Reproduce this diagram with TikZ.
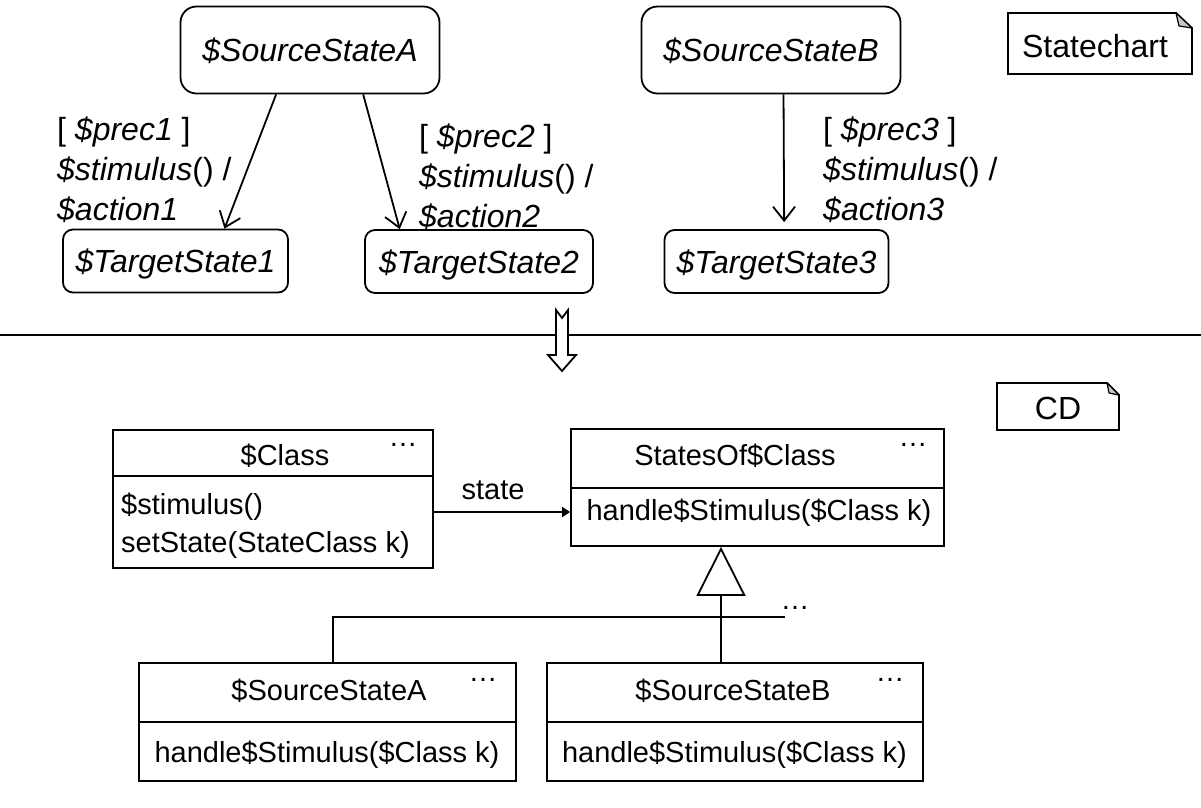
\documentclass[tikz,border=0pt]{standalone}
\usepackage{fontspec}
\setmainfont{Liberation Sans}
\usetikzlibrary{arrows.meta,calc}
\begin{document}
\begin{tikzpicture}[x=1pt,y=-1pt,
  ln/.style={line width=1.8pt},
  stbox/.style={draw, line width=1.8pt, inner sep=0pt, text depth=0pt, font=\fontsize{32}{38}\selectfont\itshape},
  src/.style={stbox, rounded corners=16pt, minimum height=87pt},
  tgt/.style={stbox, rounded corners=10pt, minimum height=63pt},
  trans/.style={line width=1.8pt, -{Straight Barb[length=14pt,width=22pt]}},
  lbl/.style={anchor=base west, inner sep=0pt, font=\fontsize{32}{38}\selectfont},
  umlbox/.style={draw, line width=1.8pt, inner sep=0pt},
  ut/.style={anchor=base, inner sep=0pt, font=\fontsize{29}{34}\selectfont},
  utl/.style={ut, anchor=base west},
  notetext/.style={inner sep=0pt, font=\fontsize{32}{38}\selectfont},
  notebox/.style={line width=1.8pt, fill=white, line join=miter},
  fold/.style={line width=1.2pt, fill=black!22, line join=round},
  gen/.style={line width=1.8pt, -{Triangle[open, length=49pt, width=49pt]}},
  assoc/.style={line width=1.8pt, -{Triangle[length=8pt, width=10pt]}}
]
\useasboundingbox (0,0) rectangle (1201,807);

% ---------- Statechart ----------
\node[src, minimum width=259pt] (sA) at (310,50) {\$SourceStateA};
\node[src, minimum width=259pt] (sB) at (771,50) {\$SourceStateB};
\node[tgt, minimum width=225pt] (t1) at (175.5,261) {\$TargetState1};
\node[tgt, minimum width=228pt] (t2) at (479,261.5) {\$TargetState2};
\node[tgt, minimum width=224pt] (t3) at (776.5,261.5) {\$TargetState3};

\draw[trans] ($(sA.south west)!0.37!(sA.south east)$) -- ($(t1.north west)!0.716!(t1.north east)$);
\draw[trans] ($(sA.south west)!0.704!(sA.south east)$) -- ($(t2.north west)!0.155!(t2.north east)$);
\draw[trans, shorten >=7pt] ($(sB.south west)!0.548!(sB.south east)$) -- ($(t3.north west)!0.534!(t3.north east)$);

\node[lbl] (l1a) at (57,140) {[ \textit{\$prec1} ]};
\node[lbl] (l1b) at (57,180) {\textit{\$stimulus}() /};
\node[lbl] (l1c) at (57,220) {\textit{\$action1}};
\node[lbl] (l2a) at (419,147) {[ \textit{\$prec2} ]};
\node[lbl] (l2b) at (419,187) {\textit{\$stimulus}() /};
\node[lbl] (l2c) at (419,227) {\textit{\$action2}};
\node[lbl] (l3a) at (823,140) {[ \textit{\$prec3} ]};
\node[lbl] (l3b) at (823,180) {\textit{\$stimulus}() /};
\node[lbl] (l3c) at (823,220) {\textit{\$action3}};

% Statechart note
\draw[notebox] (1008,13) -- (1176,13) -- (1192,28) -- (1192,74) -- (1008,74) -- cycle;
\draw[fold] (1176,13) -- (1192,28) -- (1179,26) -- cycle;
\node[notetext] (nSC) at (1095,46) {Statechart};

% ---------- separator and transformation arrow ----------
\draw[ln] (0,335) -- (1201,335);
\draw[ln, fill=white, line join=miter]
  (556,310) -- (562,318) -- (568,310) -- (568,355) -- (576,355) -- (562,371)
  -- (548,355) -- (556,355) -- cycle;

% ---------- CD ----------
\draw[notebox] (997,383) -- (1107,383) -- (1119,395) -- (1119,430) -- (997,430) -- cycle;
\draw[fold] (1107,383) -- (1119,395) -- (1109,393) -- cycle;
\node[notetext] (nCD) at (1058,408) {CD};

% $Class
\node[umlbox, minimum width=320pt, minimum height=138pt] (cls) at (273,499) {};
\draw[ln] (cls.west |- 0,476) -- (cls.east |- 0,476);
\node[ut] (clsT) at (285,465) {\$Class};
\node[ut] (clsD) at (403,446) {…};
\node[utl] (clsM1) at (121,514) {\$stimulus()};
\node[utl] (clsM2) at (121,552) {setState(StateClass k)};

% StatesOf$Class
\node[umlbox, minimum width=373pt, minimum height=117pt] (cS) at (757.5,487.5) {};
\draw[ln] (cS.west |- 0,488) -- (cS.east |- 0,488);
\node[ut] (cST) at (735,465) {StatesOf\$Class};
\node[ut] (cSD) at (913,446) {…};
\node[ut] (cSM) at (759,520) {handle\$Stimulus(\$Class k)};

% association
\draw[assoc] (cls.east |- 0,512) -- (cS.west |- 0,512);
\node[ut] (assocL) at (493,499) {state};

% $SourceStateA class
\node[umlbox, minimum width=377pt, minimum height=118pt] (cA) at (327.5,722) {};
\draw[ln] (cA.west |- 0,722) -- (cA.east |- 0,722);
\node[ut] (cAT) at (329,700) {\$SourceStateA};
\node[ut] (cAD) at (483,681) {…};
\node[ut] (cAM) at (327,762) {handle\$Stimulus(\$Class k)};

% $SourceStateB class
\node[umlbox, minimum width=376pt, minimum height=118pt] (cB) at (735,722) {};
\draw[ln] (cB.west |- 0,722) -- (cB.east |- 0,722);
\node[ut] (cBT) at (733,700) {\$SourceStateB};
\node[ut] (cBD) at (890,681) {…};
\node[ut] (cBM) at (734.5,762) {handle\$Stimulus(\$Class k)};

% generalization
\draw[gen] (cB.north -| 721,0) -- (cS.south -| 721,0);
\coordinate (genEnd) at (785,617);
\draw[ln] (cA.north -| 333,0) |- (genEnd);
\node[ut] (genD) at (795,609) {…};
\end{tikzpicture}
\end{document}
